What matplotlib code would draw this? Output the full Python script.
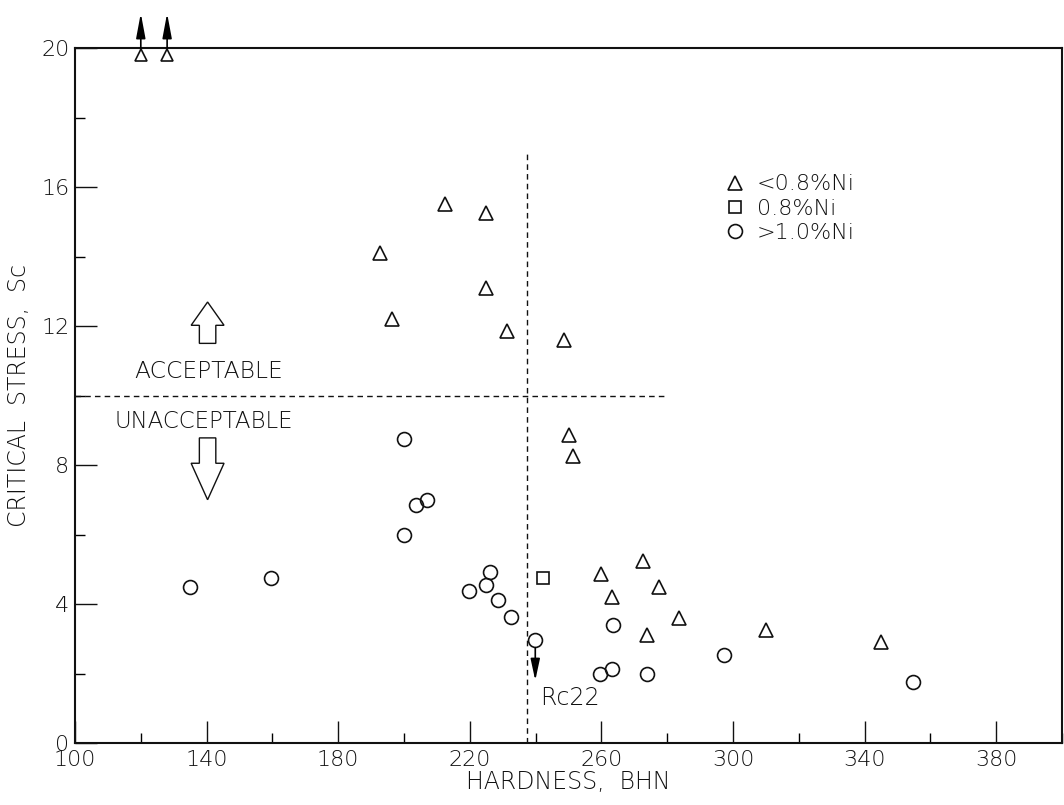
import matplotlib
matplotlib.use("Agg")
import matplotlib.pyplot as plt
from matplotlib.patches import FancyArrow
from matplotlib.ticker import FixedLocator

# ---- data ----
tri_x = [192.7, 212.5, 225.0, 196.4, 225.0, 231.3, 248.7, 250.2, 251.4,
         259.9, 272.7, 263.3, 277.6, 273.9, 283.6, 310.1, 345.0]
tri_y = [14.1, 15.5, 15.25, 12.2, 13.1, 11.85, 11.6, 8.85, 8.25,
         4.85, 5.25, 4.2, 4.5, 3.1, 3.6, 3.25, 2.9]
tri_off_x = [120.0, 128.0]          # off-scale (> 20) points
tri_off_y = [19.8, 19.8]
sq_x = [242.3]
sq_y = [4.75]
cir_x = [135.0, 159.6, 200.0, 203.7, 207.0, 200.0, 219.8, 225.0, 226.2,
         228.6, 232.6, 239.9, 259.6, 263.3, 263.6, 273.9, 297.3, 354.8]
cir_y = [4.5, 4.75, 8.75, 6.85, 7.0, 6.0, 4.37, 4.55, 4.92,
         4.11, 3.63, 2.96, 2.0, 2.13, 3.4, 2.0, 2.53, 1.75]
rc22_x, rc22_y = 239.9, 2.96        # point with downward arrow
crit_hardness = 237.3               # Rc22 boundary
crit_stress = 10.0                  # acceptance boundary

labels = ["<0.8%Ni", "0.8%Ni", ">1.0%Ni"]
x_major = [100, 140, 180, 220, 260, 300, 340, 380]
x_minor = [120, 160, 200, 240, 280, 320, 360, 400]
y_major = [0, 4, 8, 12, 16, 20]
y_minor = [2, 6, 10, 14, 18]

fc = "#111111"
FW = 200
plt.rcParams['font.family'] = ['DejaVu Sans']
plt.rcParams['font.weight'] = FW
plt.rcParams['axes.labelweight'] = FW
fig = plt.figure(figsize=(10.64, 8.05), dpi=100)
ax = fig.add_axes([75/1064, 62/805, (1062-75)/1064, (743-48)/805])

ms = 10
ax.plot(tri_x, tri_y, '^', ms=ms, mfc='none', mec=fc, mew=1.2, ls='none', label=labels[0])
ax.plot(sq_x, sq_y, 's', ms=ms-1, mfc='none', mec=fc, mew=1.2, ls='none', label=labels[1])
ax.plot(cir_x, cir_y, 'o', ms=ms, mfc='none', mec=fc, mew=1.2, ls='none', label=labels[2])
ax.plot(tri_off_x, tri_off_y, '^', ms=ms-2, mfc='white', mec=fc, mew=1.2, ls='none', clip_on=False, zorder=5)

for x in tri_off_x:
    ax.annotate("", xy=(x, 21.0), xytext=(x, 19.95), annotation_clip=False,
                arrowprops=dict(arrowstyle="-|>,head_length=1.5,head_width=0.28",
                                color='black', lw=1.2, shrinkA=0, shrinkB=0))

ax.annotate("", xy=(rc22_x, 1.8), xytext=(rc22_x, rc22_y - 0.22),
            arrowprops=dict(arrowstyle="-|>,head_length=1.3,head_width=0.28",
                            color='black', lw=1.2, shrinkA=0, shrinkB=0))
ax.text(241.5, 1.3, "Rc22", fontsize=17, color=fc, ha='left', va='center')

# boundary lines
ax.plot([crit_hardness, crit_hardness], [0, 17.0], color=fc, lw=1.0, ls=(0, (4, 3)))
ax.plot([100, 280], [crit_stress, crit_stress], color=fc, lw=1.0, ls=(0, (4, 3)))

# block arrows
ax.add_patch(FancyArrow(140.3, 11.5, 0, 1.19, width=5, head_width=10, head_length=0.67,
                        length_includes_head=True, fc='white', ec=fc, lw=1.0))
ax.add_patch(FancyArrow(140.3, 8.78, 0, -1.78, width=5, head_width=10, head_length=1.05,
                        length_includes_head=True, fc='white', ec=fc, lw=1.0))
ax.text(140.7, 10.7, "ACCEPTABLE", fontsize=16.8, color=fc, ha='center', va='center')
ax.text(139.2, 9.25, "UNACCEPTABLE", fontsize=16.5, color=fc, ha='center', va='center')

ax.set_xlim(100, 400)
ax.set_ylim(0, 20)
ax.xaxis.set_major_locator(FixedLocator(x_major))
ax.xaxis.set_minor_locator(FixedLocator(x_minor))
ax.yaxis.set_major_locator(FixedLocator(y_major))
ax.yaxis.set_minor_locator(FixedLocator(y_minor))
ax.tick_params(which='major', direction='in', length=16, width=1.0, labelsize=16,
               colors=fc, top=False, right=False)
ax.tick_params(which='minor', direction='in', length=7, width=1.0, top=False, right=False)
ax.tick_params(axis='x', pad=5)
ax.tick_params(axis='y', pad=4)
for s in ax.spines.values():
    s.set_linewidth(1.5)
    s.set_color(fc)

ax.set_xlabel("HARDNESS,  BHN", fontsize=17, color=fc, labelpad=0)
ax.set_ylabel("CRITICAL  STRESS,  Sc", fontsize=17, color=fc, labelpad=8)
ax.xaxis.set_label_coords(0.5, -0.039)
ax.yaxis.set_label_coords(-0.045, 0.5)

leg = ax.legend(loc='upper left', bbox_to_anchor=(0.637, 0.847), frameon=False,
                fontsize=16, handletextpad=0.5, labelspacing=0.2, handlelength=1.0,
                labelcolor=fc)

fig.savefig("out.png", dpi=100)
